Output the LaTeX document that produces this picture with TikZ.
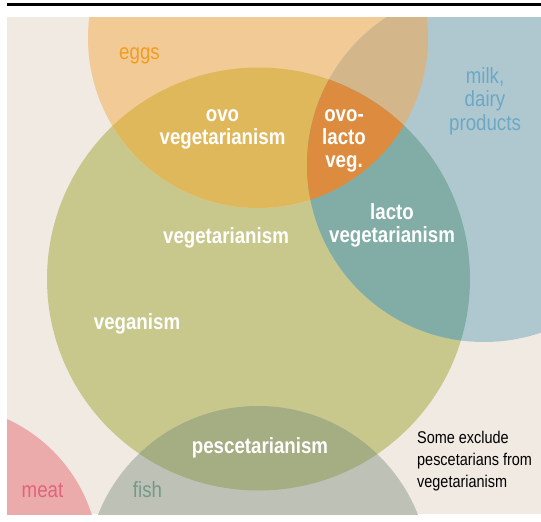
\documentclass[tikz,border=0pt]{standalone}
\usepackage{fontspec}
\setmainfont{Liberation Sans}[FakeStretch=0.85]
\definecolor{bgpanel}{HTML}{F1EAE3}
\definecolor{eggc}{HTML}{F2CA95}
\definecolor{milkc}{HTML}{AFC8CF}
\definecolor{eggmilk}{HTML}{D3B68A}
\definecolor{vegc}{HTML}{C9C88C}
\definecolor{ovoc}{HTML}{E0B85C}
\definecolor{ovolacto}{HTML}{DD8C3F}
\definecolor{lactoc}{HTML}{81ADA6}
\definecolor{fishc}{HTML}{BEC2B6}
\definecolor{pescc}{HTML}{A5AD82}
\definecolor{meatc}{HTML}{EBABAB}
\definecolor{eggtxt}{HTML}{F39C1F}
\definecolor{milktxt}{HTML}{6AA8C6}
\definecolor{meattxt}{HTML}{E0647A}
\definecolor{fishtxt}{HTML}{74998A}
\begin{document}
\begin{tikzpicture}[x=1pt,y=-1pt,
  lab/.style={font=\bfseries\fontsize{22}{23}\selectfont, text=white, align=center, inner sep=0pt},
  setlab/.style={font=\fontsize{22}{23.5}\selectfont, align=center, inner sep=0pt},
  note/.style={font=\fontsize{17}{22}\selectfont, text=black, align=left, inner sep=0pt}]
\useasboundingbox (0,0) rectangle (541,522);
\fill[white] (0,0) rectangle (541,522);
\coordinate (rl) at (7,4.3);
\coordinate (rr) at (541,4.3);
\draw[line width=2.4pt] (rl) -- (rr);
\coordinate (big) at (258.5,279);
\coordinate (egg) at (258,38);
\coordinate (milk) at (484,165);
\coordinate (fish) at (258,578);
\coordinate (meat) at (-58,562);
\def\rBig{211.5}
\def\rEgg{170}
\def\rMilk{177}
\def\rFish{172}
\def\rMeat{157}
\begin{scope}
  \clip (7,17) rectangle (541,514);
  \fill[bgpanel] (7,17) rectangle (541,514);
  \fill[vegc] (big) circle[radius=\rBig];
  \fill[eggc] (egg) circle[radius=\rEgg];
  \fill[milkc] (milk) circle[radius=\rMilk];
  \begin{scope}
    \clip (egg) circle[radius=\rEgg];
    \fill[eggmilk] (milk) circle[radius=\rMilk];
    \fill[ovoc] (big) circle[radius=\rBig];
  \end{scope}
  \begin{scope}
    \clip (milk) circle[radius=\rMilk];
    \fill[lactoc] (big) circle[radius=\rBig];
    \clip (egg) circle[radius=\rEgg];
    \fill[ovolacto] (big) circle[radius=\rBig];
  \end{scope}
  \fill[fishc] (fish) circle[radius=\rFish];
  \begin{scope}
    \clip (fish) circle[radius=\rFish];
    \fill[pescc] (big) circle[radius=\rBig];
  \end{scope}
  \fill[meatc] (meat) circle[radius=\rMeat];
\end{scope}
% set labels
\node[setlab, text=eggtxt, anchor=base] (eggs) at (139.5,59) {eggs};
\node[setlab, text=milktxt, anchor=base] (milklab) at (485,130) {milk,\\dairy\\products};
\node[setlab, text=meattxt, anchor=base] (meatlab) at (42.5,497) {meat};
\node[setlab, text=fishtxt, anchor=base] (fishlab) at (147.5,497) {fish};
% diet labels
\node[lab, anchor=base] (ovo) at (222.5,144) {ovo\\vegetarianism};
\node[lab, anchor=base] (ovolac) at (344,167) {ovo-\\lacto\\veg.};
\node[lab, anchor=base] (lacto) at (392,242) {lacto\\vegetarianism};
\node[lab, anchor=base] (veget) at (226,243) {vegetarianism};
\node[lab, anchor=base] (vegan) at (137,329) {veganism};
\node[lab, anchor=base] (pesc) at (260,453) {pescetarianism};
\node[note, anchor=base west] (remark) at (417,487.3) {Some exclude\\pescetarians from\\vegetarianism};
\end{tikzpicture}
\end{document}
